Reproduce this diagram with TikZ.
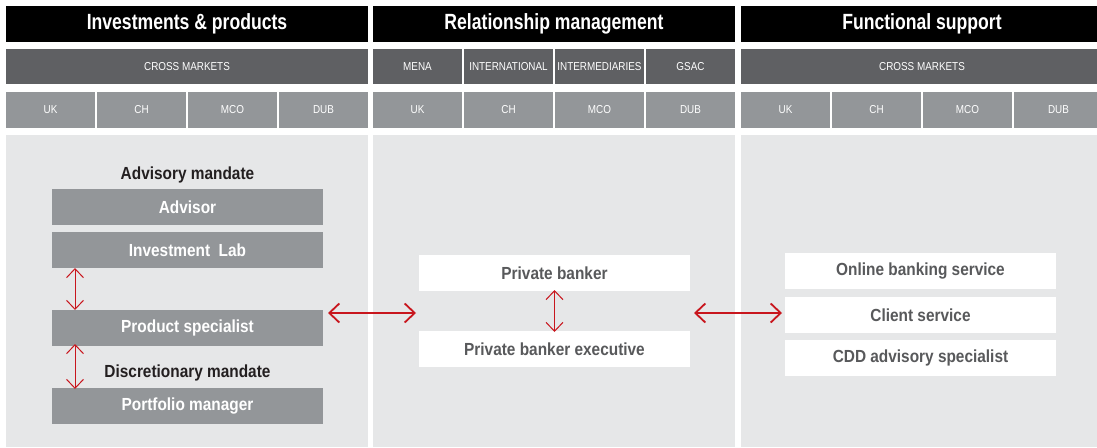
\documentclass[tikz,border=0pt]{standalone}
\usepackage{fontspec}
\setmainfont{Liberation Sans}
\newfontfamily\hdrfont{Liberation Sans}[FakeStretch=0.80]
\newfontfamily\rowfont{Liberation Sans}[FakeStretch=0.86]
\newfontfamily\boxfont{Liberation Sans}[FakeStretch=0.88]
\usetikzlibrary{arrows.meta,calc}
\definecolor{hdrblack}{HTML}{000000}
\definecolor{mktgray}{HTML}{5F6063}
\definecolor{locgray}{HTML}{939699}
\definecolor{panelgray}{HTML}{E6E7E8}
\definecolor{boxtext}{HTML}{58595B}
\definecolor{lbltext}{HTML}{231F20}
\definecolor{arrred}{HTML}{C8161D}
\tikzset{
  base/.style={inner sep=0pt, outer sep=0pt, align=center},
  hdr/.style={base, fill=hdrblack, text=white, minimum height=36pt, font=\hdrfont\fontsize{22}{24}\selectfont\bfseries},
  mkt/.style={base, fill=mktgray, text=white, minimum height=35pt, font=\rowfont\fontsize{11.5}{13}\selectfont},
  loc/.style={base, fill=locgray, text=white, minimum width=89pt, minimum height=36pt, font=\rowfont\fontsize{11.5}{13}\selectfont},
  panel/.style={base, fill=panelgray, minimum height=312pt},
  gbox/.style={base, fill=locgray, text=white, minimum width=271pt, minimum height=36pt, font=\boxfont\fontsize{17.5}{19}\selectfont\bfseries},
  wbox/.style={base, fill=white, text=boxtext, minimum width=271pt, minimum height=36pt, font=\boxfont\fontsize{17.5}{19}\selectfont\bfseries},
  lbl/.style={base, text=lbltext, font=\boxfont\fontsize{17.5}{19}\selectfont\bfseries},
  harrow/.style={draw=arrred, line width=1.8pt, {Straight Barb[length=10pt,width=19pt,line width=1.8pt]}-{Straight Barb[length=10pt,width=19pt,line width=1.8pt]}},
  varrow/.style={draw=arrred, line width=1pt, {Straight Barb[length=9pt,width=17pt,line width=1pt]}-{Straight Barb[length=9pt,width=17pt,line width=1pt]}}
}
\begin{document}
\begin{tikzpicture}[x=1pt,y=-1pt]
\clip (0,0) rectangle (1097,447);
\fill[white] (0,0) rectangle (1097,447);
% headers
\node[hdr, minimum width=362pt] (h1) at (187,24) {Investments \& products};
\node[hdr, minimum width=362pt] (h2) at (554,24) {Relationship management};
\node[hdr, minimum width=362pt] (h3) at (922,24) {Functional support};
% market row
\node[mkt, minimum width=362pt] (m1) at (187,66.5) {CROSS MARKETS};
\node[mkt, minimum width=89pt] (m2a) at (417.5,66.5) {MENA};
\node[mkt, minimum width=89pt] (m2b) at (508.5,66.5) {INTERNATIONAL};
\node[mkt, minimum width=89pt] (m2c) at (599.5,66.5) {INTERMEDIARIES};
\node[mkt, minimum width=89pt] (m2d) at (690.5,66.5) {GSAC};
\node[mkt, minimum width=362pt] (m3) at (922,66.5) {CROSS MARKETS};
% location row
\foreach \c/\x in {1/6,2/373,3/741}{
  \node[loc] (l\c a) at (\x+44.5,110) {UK};
  \node[loc] (l\c b) at (\x+135.5,110) {CH};
  \node[loc] (l\c c) at (\x+226.5,110) {MCO};
  \node[loc] (l\c d) at (\x+317.5,110) {DUB};
}
% panels
\node[panel, minimum width=362pt] (p1) at (187,291) {};
\node[panel, minimum width=362pt] (p2) at (554,291) {};
\node[panel, minimum width=362pt] (p3) at (922,291) {};
% left column
\node[lbl] (advm) at (187.5,175) {Advisory mandate};
\node[gbox] (adv) at (187.5,207) {Advisor};
\node[gbox] (lab) at (187.5,250) {Investment\ \ Lab};
\node[gbox] (prod) at (187.5,328) {Product specialist};
\node[lbl] (discm) at (187.5,373) {Discretionary mandate};
\node[gbox] (port) at (187.5,406) {Portfolio manager};
% middle column
\node[wbox] (pb) at (554.5,273) {Private banker};
\node[wbox] (pbe) at (554.5,349) {Private banker executive};
% right column
\node[wbox] (online) at (920.5,271) {Online banking service};
\node[wbox] (client) at (920.5,315) {Client service};
\node[wbox] (cdd) at (920.5,358) {CDD advisory specialist};
% arrows
\coordinate (ax) at (75,0);
\coordinate (hy) at (0,313);
\draw[varrow] (lab.south -| ax) -- (prod.north -| ax);
\draw[varrow] ([yshift=2pt]prod.south -| ax) -- ([yshift=-1pt]port.north -| ax);
\draw[varrow] ([yshift=1pt]pb.south) -- ([yshift=-1pt]pbe.north);
\draw[harrow] ([xshift=5pt]prod.east |- hy) -- ([xshift=-3pt]pb.west |- hy);
\draw[harrow] ([xshift=4pt]pb.east |- hy) -- ([xshift=-3pt]client.west |- hy);
\end{tikzpicture}
\end{document}
